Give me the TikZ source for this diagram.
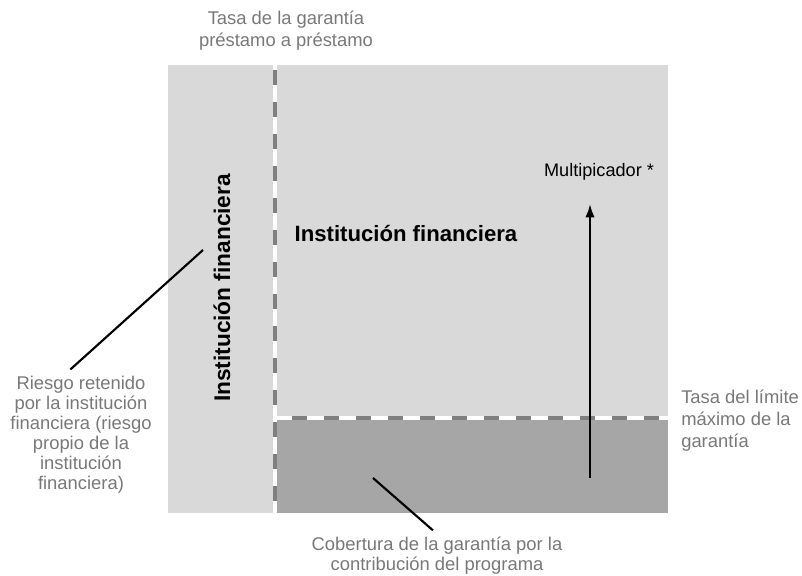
\documentclass[tikz,border=0pt]{standalone}
\usepackage{fontspec}
\setmainfont{Liberation Sans}
\usetikzlibrary{arrows.meta}

\definecolor{lightfill}{RGB}{217,217,217}
\definecolor{darkfill}{RGB}{166,166,166}
\definecolor{dashgray}{RGB}{128,128,128}
\definecolor{notegray}{RGB}{120,120,120}

\tikzset{
    note/.style={text=notegray, inner sep=0pt, font=\fontsize{13.8}{15}\selectfont},
    boldlabel/.style={text=black, inner sep=0pt, font=\fontsize{16.6}{18}\selectfont\bfseries},
    leader/.style={black, line width=1.6pt},
    splitwhite/.style={white, line width=3.4pt},
    splitdash/.style={dashgray, line width=3pt, dash pattern=on 11.25pt off 12.75pt}
}

\begin{document}
\begin{tikzpicture}[x=0.75pt,y=-0.75pt]
    \useasboundingbox (0,0) rectangle (802,575);

    % Define block dimensions
    \def\xl{168} % left edge of the block
    \def\xr{668} % right edge of the block
    \def\yt{65} % top edge of the block
    \def\yb{513} % bottom edge of the block
    \def\xs{275} % x of the vertical split
    \def\ys{418} % y of the horizontal split

    % --- Background blocks ---
    \fill[lightfill] (\xl,\yt) rectangle (\xr,\yb); % whole square
    \fill[darkfill] (\xs,\ys) rectangle (\xr,\yb); % programme share

    % --- Split lines (white line with grey dashes) ---
    \draw[splitwhite] (\xs,\ys) -- (\xr,\ys);
    \draw[splitdash, dash phase=11.25pt] (\xs,\ys) -- (\xr,\ys);
    \draw[splitwhite] (\xs,\yt) -- (\xs,\yb);
    \draw[splitdash, dash phase=20.25pt] (\xs,\yt) -- (\xs,\yb);

    % --- Labels inside the block ---
    \node[boldlabel, rotate=90, font=\fontsize{17}{18}\selectfont\bfseries] (ifvert) at (222,288) {Institución financiera};
    \node[boldlabel] (ifmain) at (406,233) {Institución financiera};
    \node[inner sep=0pt, font=\fontsize{13.6}{15}\selectfont] (mult) at (599,172) {Multipicador *};

    % --- Notes around the block ---
    \node[note, align=center, font=\fontsize{13.8}{16.5}\selectfont] (tasagar) at (286,31) {Tasa de la garantía\\préstamo a préstamo};
    \node[note, align=center] (riesgo) at (81,435) {Riesgo retenido\\por la institución\\financiera (riesgo\\propio de la\\institución\\financiera)};
    \node[note, align=left, anchor=west, font=\fontsize{13.8}{16.5}\selectfont] (tasalim) at (681,421) {Tasa del límite\\máximo de la\\garantía};
    \node[note, align=center] (cober) at (437,556) {Cobertura de la garantía por la\\contribución del programa};

    % --- Leader lines and arrow ---
    \coordinate (riesgotip) at (203,250);
    \coordinate (cobertip) at (373,478);
    \coordinate (multbase) at (590,478);
    \coordinate (multtip) at (590,204);
    \draw[leader] ([shift={(-8pt,5pt)}]riesgo.north) -- (riesgotip);
    \draw[leader] ([shift={(-3pt,5pt)}]cober.north) -- (cobertip);
    \draw[leader, -{Latex[length=10pt,width=7pt]}] (multbase) -- (multtip);

\end{tikzpicture}
\end{document}
